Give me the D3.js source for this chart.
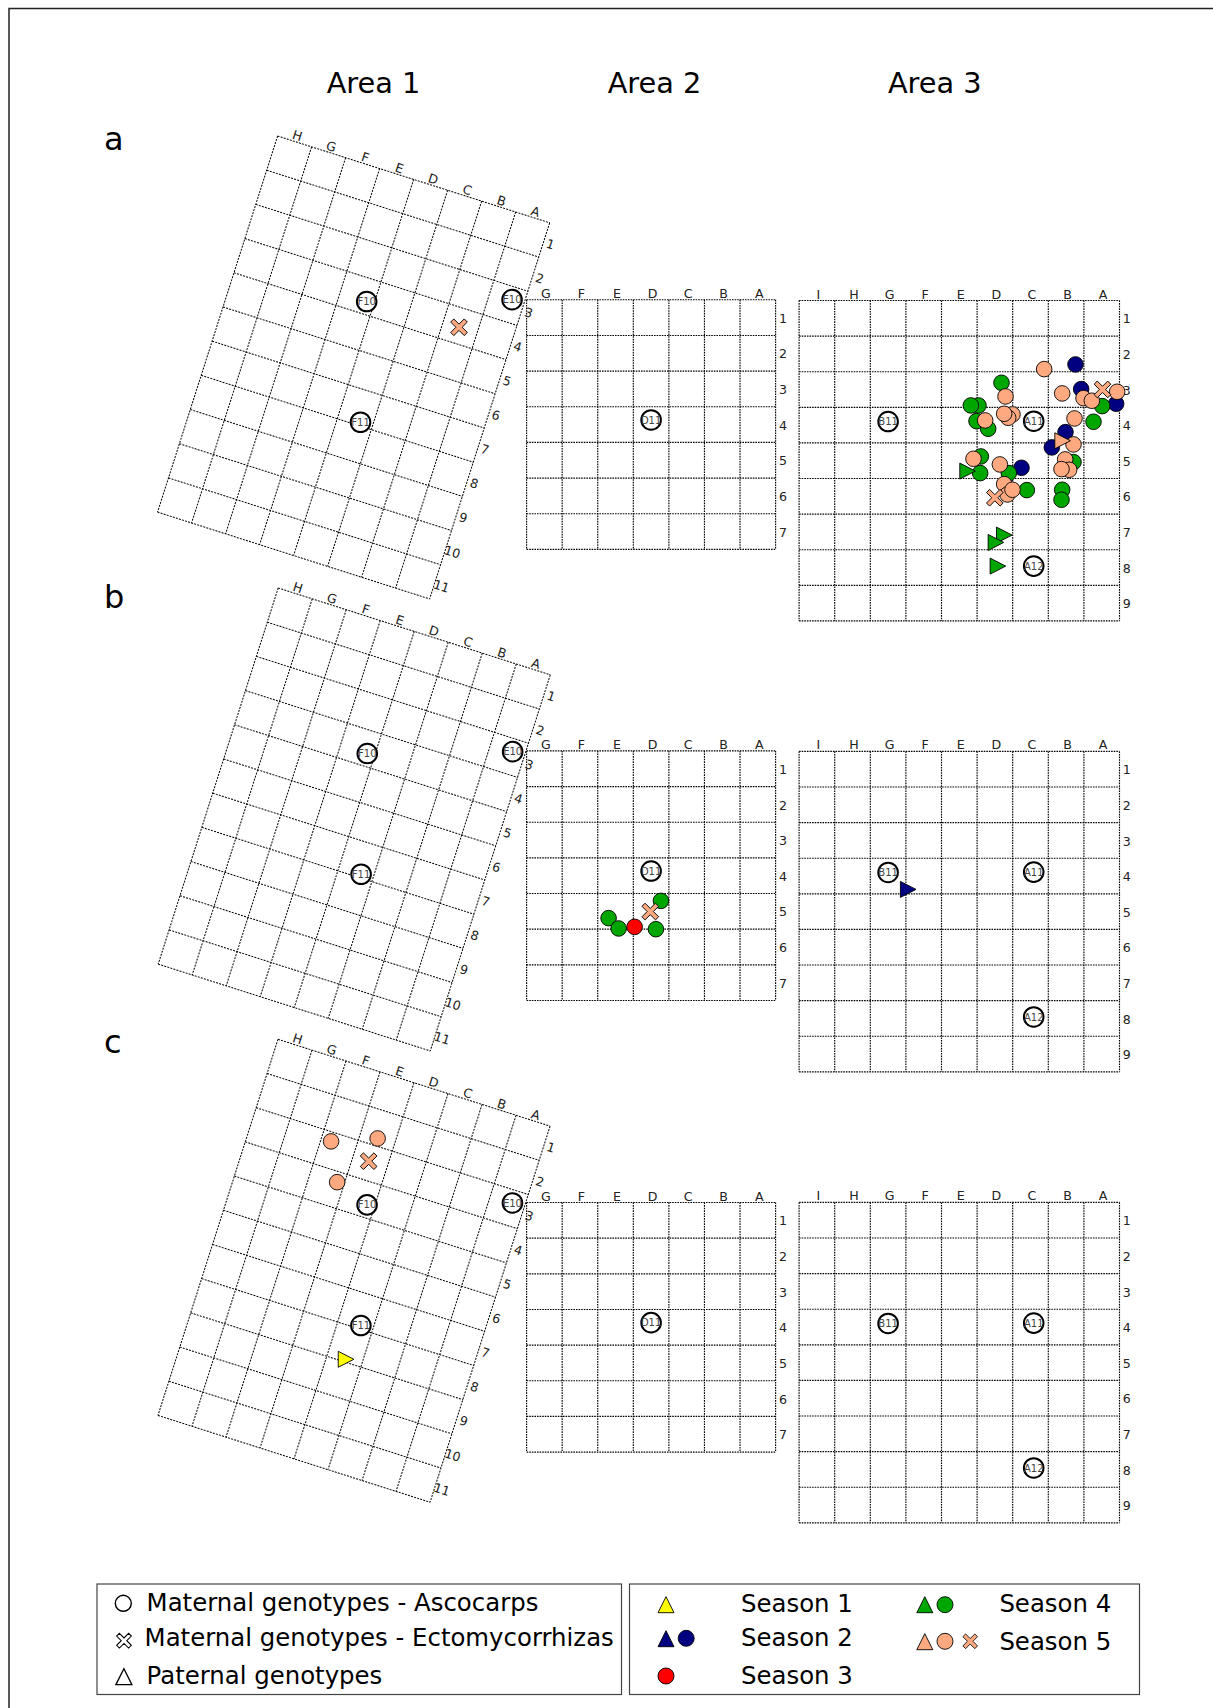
<!DOCTYPE html>
<html>
<head>
<meta charset="utf-8">
<script src="https://cdn.jsdelivr.net/npm/d3@7"></script>
<style>html,body{margin:0;padding:0;background:#fff}svg{display:block}text{font-family:"DejaVu Sans",Verdana,sans-serif}</style>
</head>
<body>
<div id="chart"></div>
<script>
// ---- categories / tick labels
const panelLetters = ["a","b","c"];
const areaTitles = ["Area 1","Area 2","Area 3"];
const area1Cols = ["H","G","F","E","D","C","B","A"];
const area2Cols = ["G","F","E","D","C","B","A"];
const area3Cols = ["I","H","G","F","E","D","C","B","A"];
const area1Rows = ["1","2","3","4","5","6","7","8","9","10","11"];
const area2Rows = ["1","2","3","4","5","6","7"];
const area3Rows = ["1","2","3","4","5","6","7","8","9"];

// ---- maternal ascocarp rings, in grid units [column, row, label]
const area1Rings = [[3.787,3.64,"F10"],[7.65,2.358,"E10"],[4.65,6.896,"F11"]];
const area2Rings = [[3.5,3.37,"D11"]];
const area3Rings = [[2.5,3.4,"B11"],[6.59,3.39,"A11"],[6.59,7.46,"A12"]];

// ---- panel a, area 1
const a1Cross5 = [[6.47,3.54]];

// ---- panel a, area 3
const a3Circle2 = [[7.764,1.796],[7.923,2.489],[8.906,2.901],[7.483,3.697],[7.099,4.127],[6.247,4.699]];
const a3Circle4 = [[5.685,2.311],[5.039,2.948],[4.824,2.948],[4.983,3.388],[5.311,3.603],[5.105,4.38],[5.086,4.848],[5.891,4.848],[6.397,5.326],[7.39,5.316],[7.371,5.597],[8.513,2.966],[8.27,3.406],[7.708,4.539]];
const a3Circle5 = [[6.884,1.927],[7.39,2.61],[5.798,2.695],[7.989,2.742],[8.223,2.816],[8.934,2.564],[5.994,3.2],[5.873,3.294],[5.76,3.182],[5.227,3.369],[7.736,3.313],[7.708,4.043],[7.474,4.464],[7.586,4.755],[7.371,4.736],[4.899,4.446],[5.639,4.605],[5.76,5.157],[5.854,5.448],[5.994,5.316]];
const a3Cross5 = [[8.522,2.498],[5.498,5.541]];
const a3Tri5 = [[7.399,3.94]];
const a3Tri4 = [[4.73,4.792],[5.76,6.59],[5.526,6.796],[5.582,7.461]];

// ---- panel b
const b2Circle4 = [[2.305,4.69],[2.587,4.98],[3.636,5.0],[3.777,4.206]];
const b2Circle3 = [[3.037,4.935]];
const b2Cross5 = [[3.477,4.505]];
const b3Tri2 = [[3.062,3.876]];

// ---- panel c, area 1
const c1Circle5 = [[2.286,2.26],[3.503,1.788],[2.795,3.291]];
const c1Cross5 = [[3.457,2.467]];
const c1Tri1 = [[4.538,7.918]];

// ---- legend
const legendLeft = ["Maternal genotypes - Ascocarps","Maternal genotypes - Ectomycorrhizas","Paternal genotypes"];
const legendSeasons = ["Season 1","Season 2","Season 3","Season 4","Season 5"];

// ---- colours
const seasonColor = d3.scaleOrdinal().domain([1,2,3,4,5]).range(["#FFFF00","#000080","#FF0000","#00A600","#FFA980"]);

const W = 1213, H = 1708;
const svg = d3.select("#chart").append("svg").attr("width",W).attr("height",H).attr("viewBox",`0 0 ${W} ${H}`);
svg.append("rect").attr("width",W).attr("height",H).attr("fill","#fff");

// frame (top and left only reach the picture)
svg.append("path").attr("d",`M9,${H}V8.5H${W}`).attr("fill","none").attr("stroke","#222").attr("stroke-width",1.5);

// Marker shapes
const triRight = "M-7.7,-8L7.9,0L-7.7,8Z";
const triUp = "M-8,8L0,-8L8,8Z";
const a = 9.6, b = 2.2;
const crossD = `M${-a},${-b}H${-b}V${-a}H${b}V${-b}H${a}V${b}H${b}V${a}H${-b}V${b}H${-a}Z`;

const gridAngle = 17.7;
const area1Geo = {cols:area1Cols,rows:area1Rows,w:285.6,h:394.8,angle:gridAngle};
const area2Geo = {cols:area2Cols,rows:area2Rows,w:249,h:249.6,angle:0};
const area3Geo = {cols:area3Cols,rows:area3Rows,w:320.4,h:320.4,angle:0};

function makeArea(geo, ox, oy, rings){
  const xU = d3.scaleLinear().domain([0,geo.cols.length]).range([0,geo.w]);
  const yU = d3.scaleLinear().domain([0,geo.rows.length]).range([0,geo.h]);
  const xB = d3.scaleBand().domain(geo.cols).range([0,geo.w]);
  const yB = d3.scaleBand().domain(geo.rows).range([0,geo.h]);
  const rad = geo.angle*Math.PI/180, c = Math.cos(rad), s = Math.sin(rad);
  const px = d => ox + xU(d[0])*c - yU(d[1])*s;
  const py = d => oy + xU(d[0])*s + yU(d[1])*c;

  const g = svg.append("g").attr("transform",`translate(${ox},${oy}) rotate(${geo.angle})`);
  const dash = geo.angle ? "2 1.2" : "1.6 1";
  g.append("g").selectAll("line").data(d3.range(0,geo.cols.length+1)).join("line")
    .attr("x1",xU).attr("x2",xU).attr("y1",0).attr("y2",geo.h);
  g.append("g").selectAll("line").data(d3.range(0,geo.rows.length+1)).join("line")
    .attr("y1",yU).attr("y2",yU).attr("x1",0).attr("x2",geo.w);
  g.selectAll("line").attr("stroke","#000").attr("stroke-width",geo.angle?1:1.15).attr("stroke-dasharray",dash).attr("fill","none");

  const top = g.append("g").call(d3.axisTop(xB).tickSize(0).tickPadding(geo.angle?1.9:2));
  const right = g.append("g").attr("transform",`translate(${geo.w},0)`).call(d3.axisRight(yB).tickSize(0).tickPadding(7.3));
  [top,right].forEach(ax=>{
    ax.select(".domain").remove();
    ax.attr("font-family",null).attr("font-size",null);
    ax.selectAll("text").attr("font-size",12.6).attr("fill","#222");
  });
  top.selectAll("text").attr("x",geo.angle?0.8:1.4);
  right.selectAll("text").attr("text-anchor","middle").attr("y",geo.angle?2.6:1.1);

  const api = {px,py,
    circles(data,season){svg.append("g").selectAll("circle").data(data).join("circle")
      .attr("cx",px).attr("cy",py).attr("r",7.8).attr("fill",seasonColor(season)).attr("stroke","#000").attr("stroke-width",0.9);return api;},
    crosses(data,season){svg.append("g").selectAll("path").data(data).join("path")
      .attr("d",crossD).attr("transform",d=>`translate(${px(d)},${py(d)}) rotate(45)`)
      .attr("fill",seasonColor(season)).attr("stroke","#000").attr("stroke-width",0.9);return api;},
    tris(data,season){svg.append("g").selectAll("path").data(data).join("path")
      .attr("d",triRight).attr("transform",d=>`translate(${px(d)},${py(d)})`)
      .attr("fill",seasonColor(season)).attr("stroke","#000").attr("stroke-width",0.9);return api;},
    rings(){
      const r = svg.append("g").selectAll("g").data(rings).join("g").attr("transform",d=>`translate(${px(d)},${py(d)})`);
      r.append("circle").attr("r",9.8).attr("fill","#fff").attr("stroke","#000").attr("stroke-width",2);
      r.append("text").text(d=>d[2]).attr("text-anchor","middle").attr("y",3.6).attr("font-size",10).attr("fill","#444");
      return api;}
  };
  return api;
}

// titles + panel letters
const titleX = d3.scaleOrdinal().domain(areaTitles).range([373.5,654.5,934.8]);
svg.append("g").selectAll("text").data(areaTitles).join("text").text(d=>d)
  .attr("x",titleX).attr("y",92.5).attr("text-anchor","middle").attr("font-size",28.8).attr("fill","#000");
const letterY = d3.scaleOrdinal().domain(panelLetters).range([150,608,1053]);
svg.append("g").selectAll("text").data(panelLetters).join("text").text(d=>d)
  .attr("x",104).attr("y",letterY).attr("font-size",32).attr("fill","#000");

// panel a
makeArea(area3Geo,799.1,300.5,area3Rings).circles(a3Circle2,2).circles(a3Circle4,4).circles(a3Circle5,5).crosses(a3Cross5,5).tris(a3Tri5,5).tris(a3Tri4,4).rings();
makeArea(area2Geo,526.6,299.8,area2Rings).rings();
makeArea(area1Geo,277.6,136,area1Rings).crosses(a1Cross5,5).rings();
// panel b
makeArea(area3Geo,799.1,751.4,area3Rings).tris(b3Tri2,2).rings();
makeArea(area2Geo,526.6,750.9,area2Rings).rings().circles(b2Circle4,4).circles(b2Circle3,3).crosses(b2Cross5,5);
makeArea(area1Geo,278.2,588,area1Rings).rings();
// panel c
makeArea(area3Geo,799.1,1202.4,area3Rings).rings();
makeArea(area2Geo,526.6,1202.5,area2Rings).rings();
makeArea(area1Geo,278,1039.3,area1Rings).circles(c1Circle5,5).crosses(c1Cross5,5).tris(c1Tri1,1).rings();

// legend boxes
const lg = svg.append("g");
lg.append("rect").attr("x",97).attr("y",1584).attr("width",524.5).attr("height",110.5);
lg.append("rect").attr("x",629.5).attr("y",1584).attr("width",510).attr("height",110.5);
lg.selectAll("rect").attr("fill","#fff").attr("stroke","#444").attr("stroke-width",1.2);

const leftX = [146.6,144.6,146.6], leftY = [1610.7,1646,1684.3];
lg.append("g").selectAll("text").data(legendLeft).join("text").text(d=>d)
  .attr("x",(d,i)=>leftX[i]).attr("y",(d,i)=>leftY[i]).attr("font-size",24.4).attr("fill","#000");
const seasonX = [741,741,741,999.4,999.4], seasonY = [1611.7,1646,1684,1611.7,1650];
lg.append("g").selectAll("text").data(legendSeasons).join("text").text(d=>d)
  .attr("x",(d,i)=>seasonX[i]).attr("y",(d,i)=>seasonY[i]).attr("font-size",24.4).attr("fill","#000");

// legend symbols
function sym(kind,x,y,fill,sw){
  const sel = kind==="c" ? lg.append("circle").attr("cx",x).attr("cy",y).attr("r",8)
    : lg.append("path").attr("d",kind==="t"?triUp:crossD)
        .attr("transform",kind==="t"?`translate(${x},${y})`:`translate(${x},${y}) rotate(45) scale(0.88)`);
  sel.attr("fill",fill).attr("stroke","#000").attr("stroke-width",sw||0.9);
}
sym("c",123.3,1603.3,"#fff",1.4);
sym("x",124,1640.7,"#fff",1.2);
sym("t",123.9,1676.6,"#fff",1.3);
sym("t",666,1604.7,seasonColor(1));
sym("t",666,1638.7,seasonColor(2));
sym("c",686.2,1638.3,seasonColor(2));
sym("c",666,1676,seasonColor(3));
sym("t",924.8,1604.7,seasonColor(4));
sym("c",945,1604.7,seasonColor(4));
sym("t",924.8,1641.7,seasonColor(5));
sym("c",945,1641.3,seasonColor(5));
sym("x",970.2,1641.3,seasonColor(5));
</script>
</body>
</html>
